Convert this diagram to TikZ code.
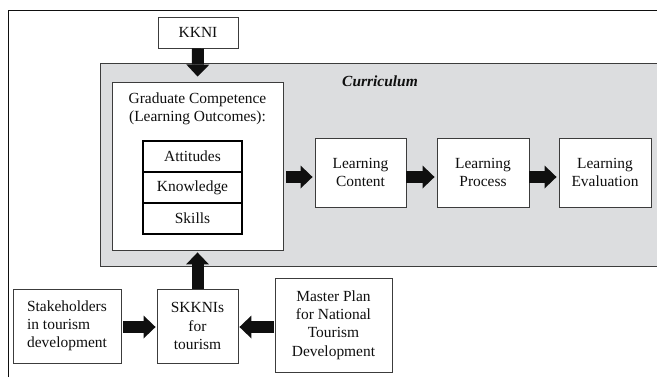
\documentclass[tikz,border=0pt]{standalone}
\usepackage{fontspec}
\setmainfont{Liberation Serif}
\usetikzlibrary{arrows.meta}
\definecolor{curgray}{RGB}{220,221,223}
\definecolor{boxline}{RGB}{60,60,60}
\definecolor{inkc}{RGB}{15,15,15}
\begin{document}
\begin{tikzpicture}[x=1bp,y=-1bp,
  txt/.style={text=inkc,font=\rmfamily\fontsize{15.5}{18.3}\selectfont},
  box/.style={txt,draw=boxline,line width=0.9bp,fill=white,inner sep=0pt,align=center},
  item/.style={txt,draw=black,line width=1.8bp,fill=white,minimum width=99bp,minimum height=31bp,inner sep=0pt},
  barrow/.style={line width=12bp,draw=inkc,-{Triangle[length=12bp,width=23bp,line width=0pt]}}
]
\useasboundingbox (0,0) rectangle (657,377);
% outer frame
\draw[line width=0.8bp,inkc] (8,377) -- (8,10) -- (657,10);
% curriculum area
\fill[curgray] (100,63) rectangle (657,266);
\draw[boxline,line width=1bp] (657,63) -- (100,63) -- (100,266) -- (657,266);
\node[txt,font=\rmfamily\fontsize{15.5}{18.3}\selectfont\bfseries\itshape] (curlabel) at (380,81) {Curriculum};
% nodes
\node[box,minimum width=80bp,minimum height=31bp] (kkni) at (198,32.5) {KKNI};
\node[box,minimum width=171bp,minimum height=168bp] (grad) at (197.5,166) {};
\node[txt,align=center] (gradtxt) at (197.5,108.5) {Graduate Competence\\(Learning Outcomes):};
\node[item] (att) at (192.5,156.5) {Attitudes};
\node[item] (know) at (192.5,187.5) {Knowledge};
\node[item] (skill) at (192.5,218.5) {Skills};
\node[box,minimum width=91bp,minimum height=69bp] (content) at (360.5,172.5) {Learning\\Content};
\node[box,minimum width=92bp,minimum height=69bp] (process) at (483,172.5) {Learning\\Process};
\node[box,minimum width=92bp,minimum height=69bp] (eval) at (605,172.5) {Learning\\Evaluation};
\node[box,align=left,minimum width=108bp,minimum height=74bp] (stake) at (67,326) {Stakeholders\\in tourism\\development};
\node[box,minimum width=81bp,minimum height=74bp] (skknis) at (197.5,326) {SKKNIs\\for\\tourism};
\node[box,minimum width=117bp,minimum height=94bp] (master) at (333.5,325) {Master Plan\\for National\\Tourism\\Development};
% arrows
\draw[barrow,shorten >=5bp] (kkni.south) -- (grad.north);
\coordinate (ca) at ([yshift=-4.5bp]content.west);
\coordinate (pa) at ([yshift=-4.5bp]process.west);
\coordinate (ea) at ([yshift=-4.5bp]eval.west);
\draw[barrow,shorten <=3bp,shorten >=2bp] (grad.east |- ca) -- (ca);
\draw[barrow,shorten >=2bp] (content.east |- pa) -- (pa);
\draw[barrow,shorten >=2bp] (process.east |- ea) -- (ea);
\draw[barrow,shorten >=2bp] (skknis.north) -- (grad.south);
\coordinate (sa) at ([yshift=-1bp]skknis.west);
\coordinate (sb) at ([yshift=-1bp]skknis.east);
\draw[barrow,shorten <=2bp,shorten >=1bp] (stake.east |- sa) -- (sa);
\draw[barrow,shorten <=1bp,shorten >=1bp] (master.west |- sb) -- (sb);
\end{tikzpicture}
\end{document}
